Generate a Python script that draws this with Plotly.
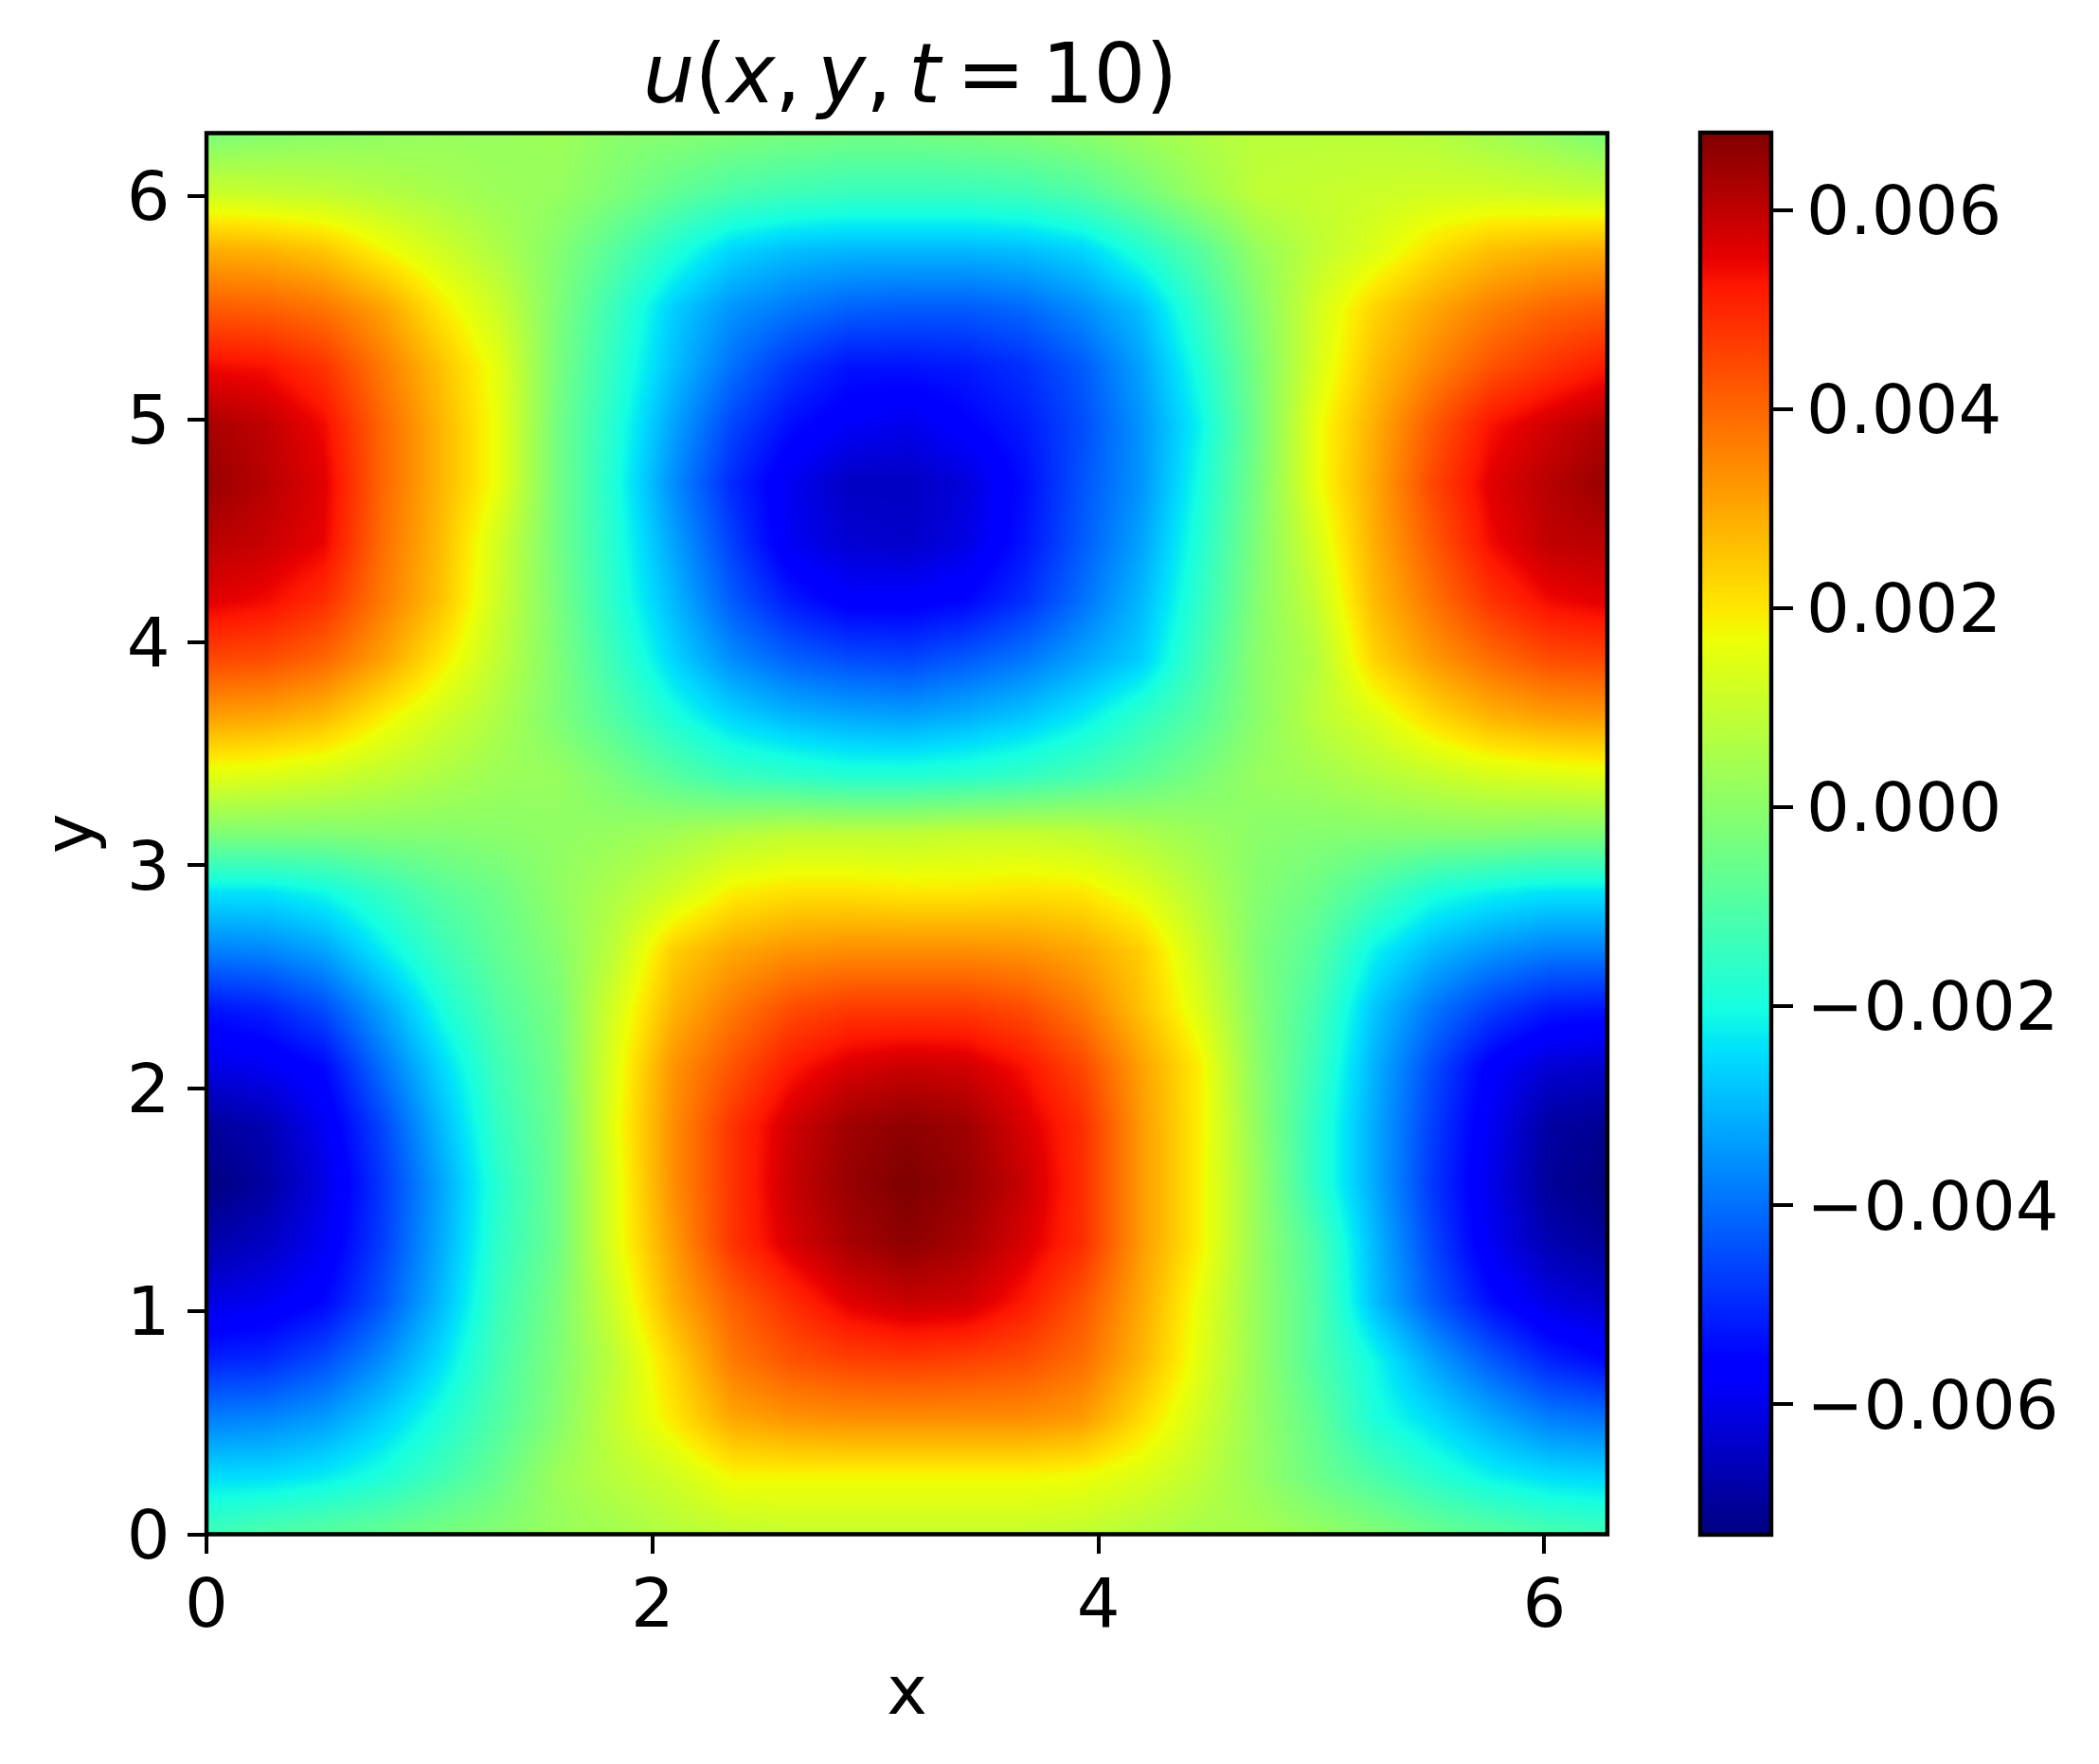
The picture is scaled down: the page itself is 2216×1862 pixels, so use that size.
# plot.py - campo u(x, y) en t = 10

import plotly.graph_objects as go

# Malla de lectura (0 .. 2*pi, 25 puntos por eje)
x_vals = [0.0, 0.262, 0.524, 0.785, 1.047, 1.309, 1.571, 1.833, 2.094, 2.356, 2.618, 2.880, 3.142,
          3.403, 3.665, 3.927, 4.189, 4.451, 4.712, 4.974, 5.236, 5.498, 5.760, 6.021, 6.283]
y_vals = list(x_vals)

# Valores de u * 1000, filas de y = 0 hacia arriba
u_milli = [
    [-1.3, -1.0, -0.8, -0.6, -0.3, -0.1, 0.2, 0.4, 0.7, 0.9, 1.0, 1.0, 1.0, 1.0, 1.0, 0.9, 0.7, 0.5, 0.5, 0.2, -0.1, -0.5, -0.8, -1.1, -1.3],
    [-2.5, -2.5, -2.3, -1.9, -1.3, -0.6, 0.3, 0.8, 1.2, 1.8, 1.8, 1.8, 1.8, 1.8, 1.8, 1.7, 1.4, 0.9, 0.2, -0.5, -1.1, -1.7, -2.2, -2.5, -2.6],
    [-3.8, -3.7, -3.4, -2.7, -1.9, -1.0, -0.1, 1.0, 2.0, 3.0, 3.3, 3.4, 3.4, 3.4, 3.4, 3.2, 2.2, 1.2, 0.2, -0.7, -1.9, -2.5, -3.2, -3.8, -4.0],
    [-5.1, -5.0, -4.5, -3.6, -2.5, -1.2, -0.2, 0.9, 2.3, 3.7, 4.3, 4.6, 4.7, 4.6, 4.4, 3.9, 2.8, 1.5, 0.2, -1.0, -2.1, -3.3, -4.3, -5.1, -5.5],
    [-6.1, -5.9, -5.5, -4.4, -3.0, -1.4, -0.3, 1.2, 2.9, 4.1, 4.9, 5.6, 5.9, 5.8, 5.2, 4.3, 3.0, 1.6, 0.2, -1.0, -2.9, -4.3, -5.4, -6.1, -6.4],
    [-6.8, -6.5, -5.9, -4.7, -3.2, -1.6, -0.5, 1.5, 3.2, 4.8, 5.7, 6.3, 6.6, 6.3, 5.7, 4.9, 3.2, 1.9, 0.2, -1.1, -3.0, -4.6, -5.9, -6.7, -7.0],
    [-7.3, -6.9, -6.1, -4.8, -3.3, -1.7, -0.5, 1.5, 3.4, 4.8, 5.9, 6.5, 6.8, 6.5, 5.9, 4.9, 3.2, 1.9, 0.2, -1.6, -3.2, -4.8, -6.0, -7.0, -7.3],
    [-7.0, -6.7, -5.9, -4.6, -3.0, -1.5, -0.5, 1.6, 3.4, 4.8, 5.8, 6.4, 6.6, 6.4, 5.7, 4.9, 3.2, 1.9, 0.1, -1.6, -3.2, -4.7, -5.9, -6.9, -7.1],
    [-6.1, -5.9, -5.5, -4.0, -2.6, -1.3, -0.4, 1.5, 3.3, 4.3, 5.2, 5.7, 5.9, 5.8, 5.3, 4.5, 3.1, 1.9, 0.0, -1.4, -3.1, -4.5, -5.7, -6.3, -6.4],
    [-5.3, -5.1, -4.5, -3.3, -2.0, -1.0, -0.3, 1.3, 2.8, 3.7, 4.4, 4.7, 4.7, 4.7, 4.4, 3.7, 2.6, 1.4, -0.1, -1.2, -2.8, -3.9, -4.7, -5.2, -5.3],
    [-3.8, -3.7, -3.3, -2.3, -1.4, -0.7, -0.1, 0.9, 2.4, 3.0, 3.3, 3.4, 3.4, 3.4, 3.3, 3.0, 2.4, 1.1, -0.2, -0.9, -2.2, -3.0, -3.5, -3.8, -3.8],
    [-2.4, -2.4, -2.1, -1.5, -0.9, -0.5, 0.1, 0.6, 1.2, 1.9, 2.1, 2.1, 2.0, 2.0, 2.1, 2.0, 1.5, 0.7, -0.1, -0.5, -1.2, -1.9, -2.2, -2.4, -2.4],
    [-0.2, -0.2, -0.2, -0.1, -0.1, 0.0, 0.1, 0.2, 0.4, 0.7, 0.9, 0.9, 0.9, 1.0, 1.0, 0.9, 0.6, 0.3, 0.0, -0.1, -0.1, -0.1, -0.1, -0.2, -0.2],
    [1.5, 1.4, 1.2, 0.9, 0.6, 0.3, 0.2, -0.3, -0.9, -1.4, -1.6, -1.8, -1.8, -1.7, -1.5, -1.2, -0.8, -0.3, 0.2, 0.4, 0.7, 1.0, 1.3, 1.4, 1.5],
    [3.1, 3.0, 2.7, 1.9, 1.2, 0.6, -0.2, -1.0, -1.9, -2.6, -3.0, -3.2, -3.3, -3.1, -2.8, -2.3, -1.6, -0.9, 0.0, 0.8, 1.4, 2.2, 2.8, 3.1, 3.2],
    [4.5, 4.4, 4.0, 3.1, 2.0, 0.9, -0.2, -1.4, -2.6, -3.6, -4.2, -4.5, -4.6, -4.3, -3.9, -3.3, -2.7, -1.3, 0.0, 0.7, 2.3, 3.2, 3.9, 4.4, 4.5],
    [5.6, 5.4, 4.9, 3.7, 2.6, 1.1, -0.3, -1.7, -3.0, -4.3, -5.2, -5.7, -5.7, -5.5, -4.9, -4.0, -3.0, -1.6, -0.1, 1.0, 2.7, 3.8, 4.8, 5.4, 5.6],
    [6.1, 5.9, 5.5, 3.9, 2.7, 1.2, -0.4, -1.8, -3.3, -4.7, -5.9, -6.3, -6.4, -6.1, -5.3, -4.3, -3.3, -1.8, -0.2, 1.3, 2.9, 4.2, 5.4, 6.0, 6.1],
    [6.5, 6.1, 5.6, 4.0, 2.8, 1.6, -0.4, -1.9, -3.6, -5.0, -5.9, -6.5, -6.5, -6.2, -5.4, -4.4, -3.5, -2.0, -0.3, 1.6, 3.0, 4.5, 5.6, 6.1, 6.5],
    [6.3, 6.0, 5.4, 4.0, 2.8, 1.6, -0.4, -1.8, -3.3, -4.6, -5.4, -5.8, -6.0, -5.6, -5.2, -4.5, -3.5, -2.2, -0.4, 1.6, 2.9, 4.2, 5.3, 5.8, 6.2],
    [5.4, 5.3, 4.8, 3.7, 2.6, 1.5, -0.3, -1.6, -2.9, -4.0, -4.8, -5.3, -5.3, -5.2, -4.9, -4.3, -3.3, -1.9, -0.3, 1.3, 2.6, 3.5, 4.3, 4.8, 5.2],
    [4.2, 4.1, 3.8, 3.1, 2.0, 1.1, -0.2, -1.4, -2.7, -3.5, -3.9, -4.2, -4.3, -4.3, -4.1, -3.6, -2.9, -1.5, -0.1, 1.2, 2.3, 3.0, 3.6, 4.0, 4.2],
    [2.9, 2.8, 2.5, 1.8, 1.2, 0.6, -0.1, -0.9, -1.8, -2.6, -2.9, -3.0, -3.0, -3.0, -2.9, -2.6, -1.8, -0.9, 0.2, 0.9, 1.4, 2.1, 2.6, 2.8, 2.9],
    [1.1, 1.0, 0.9, 0.7, 0.5, 0.3, 0.2, -0.2, -0.7, -1.1, -1.3, -1.4, -1.4, -1.4, -1.3, -1.0, -0.4, 0.3, 0.9, 1.0, 1.1, 1.2, 1.2, 1.1, 1.0],
    [-0.3, -0.1, 0.0, 0.1, 0.2, 0.2, 0.3, 0.0, -0.1, -0.2, -0.3, -0.4, -0.4, -0.3, -0.2, 0.0, 0.3, 0.6, 0.8, 0.8, 0.8, 0.7, 0.4, 0.1, -0.3],
]
u_vals = [[v / 1000 for v in fila] for fila in u_milli]

u_min = -0.00731
u_max = 0.00678

x_ticks = [0, 2, 4, 6]
y_ticks = [0, 1, 2, 3, 4, 5, 6]
cbar_ticks = [-0.006, -0.004, -0.002, 0.0, 0.002, 0.004, 0.006]

# Mapa "jet" de matplotlib, por tramos
JET = [
    [0.0, "rgb(0,0,128)"],
    [0.11, "rgb(0,0,255)"],
    [0.125, "rgb(0,0,255)"],
    [0.34, "rgb(0,219,255)"],
    [0.35, "rgb(0,229,247)"],
    [0.375, "rgb(20,255,226)"],
    [0.64, "rgb(238,255,4)"],
    [0.65, "rgb(247,243,0)"],
    [0.66, "rgb(255,232,0)"],
    [0.89, "rgb(255,23,0)"],
    [0.91, "rgb(232,0,0)"],
    [1.0, "rgb(128,0,0)"],
]

W, H = 2216, 1862
FONT = "DejaVu Sans"
TICK_SIZE = 72
LINE_W = 4.4
TICK_LEN = 19

fig = go.Figure(
    go.Heatmap(
        x=x_vals,
        y=y_vals,
        z=u_vals,
        zmin=u_min,
        zmax=u_max,
        zsmooth="best",
        colorscale=JET,
        colorbar=dict(
            thickness=75,
            x=1795 / W,
            xanchor="left",
            xpad=0,
            ypad=0,
            y=(H - 1620) / H,
            yanchor="bottom",
            len=(1620 - 140) / H,
            lenmode="fraction",
            outlinewidth=LINE_W,
            outlinecolor="black",
            tickmode="array",
            tickvals=cbar_ticks,
            tickformat=".3f",
            ticks="outside",
            ticklen=TICK_LEN + 2,
            tickwidth=LINE_W,
            tickcolor="black",
            tickfont=dict(family=FONT, size=TICK_SIZE, color="black"),
        ),
    )
)

fig.update_xaxes(
    domain=[218 / W, 1697 / W],
    range=[0, 6.283],
    tickmode="array",
    tickvals=x_ticks,
    ticks="outside",
    ticklen=TICK_LEN,
    tickwidth=LINE_W,
    tickcolor="black",
    ticklabelstandoff=-9,
    tickfont=dict(family=FONT, size=TICK_SIZE, color="black"),
    showgrid=False,
    zeroline=False,
    showline=False,
    title=dict(text="x", standoff=25, font=dict(family=FONT, size=TICK_SIZE, color="black")),
)
fig.update_yaxes(
    domain=[(H - 1619.5) / H, (H - 140.5) / H],
    range=[0, 6.283],
    tickmode="array",
    tickvals=y_ticks,
    ticks="outside",
    ticklen=TICK_LEN,
    tickwidth=LINE_W,
    tickcolor="black",
    ticklabelstandoff=4,
    tickfont=dict(family=FONT, size=TICK_SIZE, color="black"),
    showgrid=False,
    zeroline=False,
    showline=False,
    title=dict(text="y", standoff=12, font=dict(family=FONT, size=TICK_SIZE, color="black")),
)

# Marco centrado sobre el borde del area (como los spines de matplotlib)
fig.add_shape(
    type="rect",
    xref="x domain",
    yref="y domain",
    x0=0,
    x1=1,
    y0=0,
    y1=1,
    layer="above",
    line=dict(color="black", width=LINE_W),
)

fig.update_layout(
    width=W,
    height=H,
    autosize=False,
    margin=dict(l=0, r=0, t=0, b=0, autoexpand=False),
    paper_bgcolor="white",
    plot_bgcolor="white",
    title=dict(
        text="<i>u</i>(<i>x</i>,\u2009<i>y</i>,\u2009<i>t</i>\u2009=\u200910)",
        x=961 / W,
        xanchor="center",
        y=1 - 78 / H,
        yanchor="middle",
        font=dict(family=FONT, size=86.4, color="black"),
    ),
)

fig.write_html(
    "out.html",
    config={"displayModeBar": False},
    post_script="document.body.style.margin='0';",
)
